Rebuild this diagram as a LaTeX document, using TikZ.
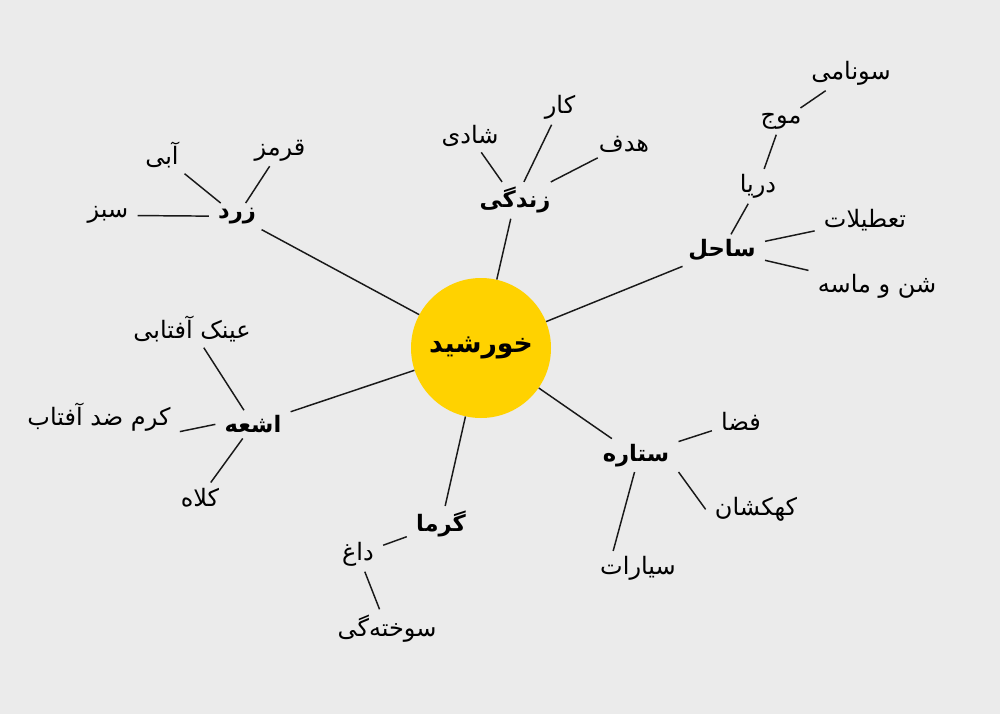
\documentclass[tikz,border=0pt]{standalone}
\usepackage{fontspec}
\newfontfamily\arabicfont[Script=Arabic]{DejaVu Sans}
\TeXXeTstate=1
\definecolor{sunyellow}{HTML}{FFD200}
\definecolor{paper}{HTML}{EBEBEB}
\tikzset{
  rtl/.style={execute at begin node=\beginR, execute at end node=\endR},
  word/.style={rtl, font=\arabicfont\fontsize{18}{21}\selectfont,
    inner xsep=4pt, inner ysep=1pt, outer sep=3pt, yshift=-2.5pt},
  topic/.style={word, font=\arabicfont\bfseries\fontsize{17}{20}\selectfont},
  core/.style={rtl, circle, fill=sunyellow, minimum size=105pt, inner sep=0pt,
    font=\arabicfont\bfseries\fontsize{20}{24}\selectfont},
  link/.style={line width=1.1pt, black!90}
}
\begin{document}
\begin{tikzpicture}[x=0.75pt,y=-0.75pt]

\fill [paper] (0,0) rectangle (1000,714);
\useasboundingbox (0,0) rectangle (1000,714);

\node (sun)	at (481,348)	[core] {\raisebox{-4pt}{خورشید}};

% branches
\node (zard)	at (237,213)	[topic] {زرد};
\node (zendegi)	at (515,197)	[topic] {زندگی};
\node (sahel)	at (722,247)	[topic] {ساحل};
\node (ashee)	at (253,421)	[topic] {اشعه};
\node (garma)	at (441,521)	[topic] {گرما};
\node (setareh)	at (636,452)	[topic] {ستاره};

% leaves
\node (sabz)	at (108,212)	[word] {سبز};
\node (abi)	at (162,152)	[word] {آبی};
\node (ghermez)	at (280,147)	[word] {قرمز};
\node (shadi)	at (470,133)	[word] {شادی};
\node (kar)	at (560,104)	[word] {کار};
\node (hadaf)	at (624,141)	[word] {هدف};
\node (darya)	at (758,183)	[word] {دریا};
\node (mowj)	at (781,118)	[word] {موج};
\node (sunami)	at (851,70)	[word] {سونامی};
\node (tatilat)	at (865,217)	[word] {تعطیلات};
\node (shen)	at (877,283)	[word] {شن و ماسه};
\node (eynak)	at (192,326)	[word] {عینک آفتابی};
\node (kerem)	at (99,414)	[word] {کرم ضد آفتاب};
\node (kolah)	at (200,494)	[word] {کلاه};
\node (dagh)	at (358,551)	[word] {داغ};
\node (sukhte)	at (387,625)	[word] {سوخته‌گی};
\node (faza)	at (741,418)	[word] {فضا};
\node (kahkeshan)	at (756,506)	[word] {کهکشان};
\node (sayarat)	at (638,565)	[word] {سیارات};

\draw [link] (zard) -- (sun);
\draw [link] (zendegi) -- (sun);
\draw [link] (sahel) -- (sun);
\draw [link] (ashee) -- (sun);
\draw [link] (garma) -- (sun);
\draw [link] (setareh) -- (sun);

\draw [link] (sabz) -- (zard);
\draw [link] (abi) -- (zard);
\draw [link] (ghermez) -- (zard);
\draw [link] (shadi) -- (zendegi);
\draw [link] (kar) -- (zendegi);
\draw [link] (hadaf) -- (zendegi);
\draw [link] (sunami) -- (mowj);
\draw [link] (mowj) -- (darya);
\draw [link] (darya) -- (sahel);
\draw [link] (tatilat) -- (sahel);
\draw [link] (shen) -- (sahel);
\draw [link] (eynak) -- (ashee);
\draw [link] (kerem.-10) -- (ashee.180);
\draw [link] (kolah) -- (ashee);
\draw [link] (dagh) -- (garma);
\draw [link] (sukhte) -- (dagh);
\draw [link] (faza) -- (setareh);
\draw [link] (kahkeshan.west) -- (setareh.south east);
\draw [link] (sayarat.145) -- (setareh.-95);

\end{tikzpicture}
\end{document}
